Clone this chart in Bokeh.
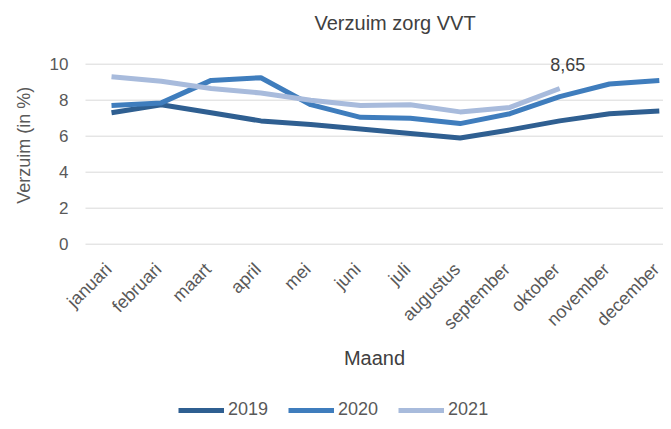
import math
from bokeh.plotting import figure
from bokeh.models import Range1d, Legend, LegendItem, ColumnDataSource, Title
from bokeh.core.properties import value
from bokeh.embed import file_html
from bokeh.resources import INLINE

months = ["januari", "februari", "maart", "april", "mei", "juni", "juli",
          "augustus", "september", "oktober", "november", "december"]
v2019 = [7.3, 7.75, 7.3, 6.85, 6.65, 6.4, 6.15, 5.9, 6.35, 6.85, 7.25, 7.4]
v2020 = [7.7, 7.85, 9.1, 9.25, 7.75, 7.05, 7.0, 6.7, 7.25, 8.2, 8.9, 9.1]
v2021 = [9.3, 9.05, 8.65, 8.4, 8.0, 7.7, 7.75, 7.35, 7.6, 8.65]
years = ["2019", "2020", "2021"]
colors = ["#2f5f91", "#3f7dbd", "#a8bbdc"]
label_index = 9
yticks = [0, 2, 4, 6, 8, 10]

FONT = "Liberation Sans"
GRAY = "#595959"
DARK = "#404040"

# plot-area extent in data units (half a category on each side)
X_LO, X_HI = -0.522, 11.084

p = figure(output_backend="svg", toolbar_location=None,
           frame_width=663, frame_height=369,
           min_border_left=0, min_border_right=0,
           min_border_top=52, min_border_bottom=0,
           x_range=Range1d(-2.229, X_HI), y_range=Range1d(-9.85, 10.65),
           x_axis_location=None, y_axis_location=None,
           title="Verzuim zorg VVT")
p.outline_line_color = None
p.background_fill_color = "white"
p.border_fill_color = "white"
p.grid.visible = False

p.title.align = "left"
p.title.offset = 314
p.title.text_font = FONT
p.title.text_font_style = "normal"
p.title.text_font_size = "20px"
p.title.text_color = DARK
p.title.standoff = 0
p.add_layout(Title(text=" ", text_font_size="1px", standoff=16), "above")

# horizontal gridlines
n = len(yticks)
p.segment(x0=[X_LO] * n, y0=yticks, x1=[X_HI] * n, y1=yticks,
          line_color="#d9d9d9", line_width=1)

# y tick labels and axis title
ysrc = ColumnDataSource(dict(x=[X_LO] * n, y=yticks, t=[str(v) for v in yticks]))
p.text(x="x", y="y", text="t", source=ysrc, x_offset=-17,
       text_align="right", text_baseline="middle",
       text_font=value(FONT), text_font_size="17px", text_color=GRAY)
p.text(x=[X_LO], y=[(yticks[0] + yticks[-1]) / 2], text=["Verzuim (in %)"],
       x_offset=-62, y_offset=-9, angle=math.pi / 2,
       text_align="center", text_baseline="middle",
       text_font=value(FONT), text_font_size="18px", text_color=GRAY)

# x tick labels and axis title
xsrc = ColumnDataSource(dict(x=list(range(len(months))), y=[0] * len(months), t=months))
p.text(x="x", y="y", text="t", source=xsrc, x_offset=-3, y_offset=22,
       angle=math.pi / 4, text_align="right", text_baseline="middle",
       text_font=value(FONT), text_font_size="18px", text_color=GRAY)
p.text(x=[(X_LO + X_HI) / 2], y=[0], text=["Maand"], y_offset=114,
       text_align="center", text_baseline="middle",
       text_font=value(FONT), text_font_size="20px", text_color=DARK)

renderers = []
for yr, vals, col in zip(years, [v2019, v2020, v2021], colors):
    r = p.line(list(range(len(vals))), vals, line_color=col, line_width=5,
               line_join="round", line_cap="butt")
    renderers.append(r)

# data label for last 2021 value
src = ColumnDataSource(dict(x=[label_index], y=[v2021[label_index]],
                            t=[f"{v2021[label_index]:.2f}".replace(".", ",")]))
p.text(x="x", y="y", text="t", source=src, x_offset=8, y_offset=-24,
       text_align="center", text_baseline="middle",
       text_font=value(FONT), text_font_size="18px", text_color=DARK)

legend = Legend(items=[LegendItem(label=yr, renderers=[r]) for yr, r in zip(years, renderers)],
                orientation="horizontal", location=(178, 1),
                label_text_font=FONT, label_text_font_size="18px",
                label_text_color=GRAY, glyph_width=46, glyph_height=20,
                label_standoff=4, spacing=20, padding=0, margin=0,
                border_line_color=None, background_fill_alpha=0)
p.add_layout(legend, "center")

open("out.html", "w").write(file_html(p, INLINE))
